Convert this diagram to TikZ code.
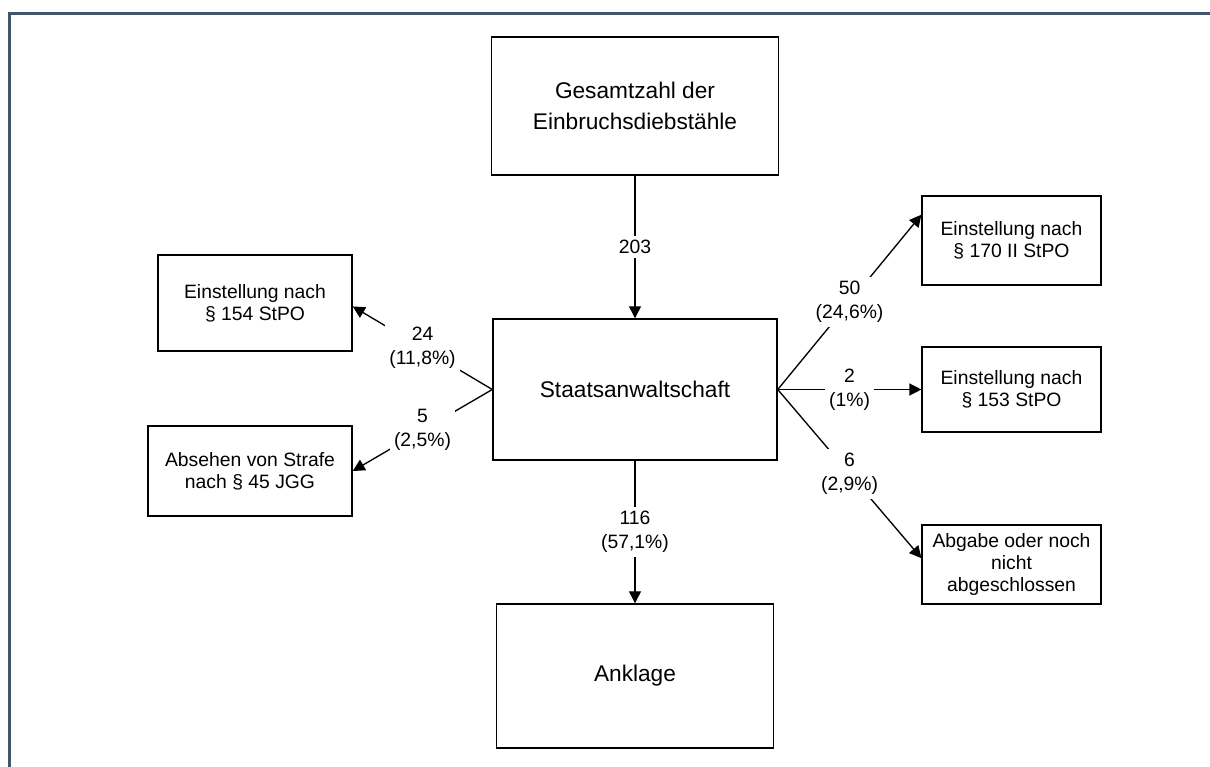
\documentclass[tikz,border=0pt]{standalone}
\usepackage{fontspec}
\setmainfont{Liberation Sans}
\usetikzlibrary{arrows.meta}
\definecolor{framegray}{RGB}{68, 84, 106}

\begin{document}
\begin{tikzpicture}[x=0.75pt, y=-0.75pt,
        bigbox/.style={draw, line width=1.1pt, align=center, inner sep=0pt,
                font=\fontsize{17}{23}\selectfont},
        smallbox/.style={draw, line width=1.1pt, align=center, inner sep=0pt,
                font=\fontsize{14.5}{16.5}\selectfont},
        flow/.style={line width=1pt, -{Triangle[length=9pt, width=9pt]}},
        count/.style={fill=white, align=center, inner sep=3pt,
                font=\fontsize{14.5}{18}\selectfont}]
    \pgfmathsetmacro{\leftCol}{252}
    \pgfmathsetmacro{\midCol}{635}
    \pgfmathsetmacro{\rightCol}{1011.5}

    \useasboundingbox (0,0) rectangle (1210,767);

    % outer frame (only top and left edge inside the picture)
    \draw[framegray, line width=2.25pt] (9,767) |- (1210,14);

    % middle column
    \node[bigbox, minimum width=215pt, minimum height=103.5pt] (total) at (\midCol, 106) {Gesamtzahl der\\Einbruchsdiebstähle};
    \node[bigbox, minimum width=213pt, minimum height=105.75pt] (staats) at (\midCol, 389.5) {Staatsanwaltschaft};
    \node[bigbox, minimum width=208pt, minimum height=108pt] (anklage) at (\midCol, 676) {Anklage};

    % left column
    \node[smallbox, minimum width=145.5pt, minimum height=72pt] (l154) at (255, 303) {Einstellung nach\\§ 154 StPO};
    \node[smallbox, minimum width=153pt, minimum height=67.5pt] (l45) at (250, 471) {Absehen von Strafe\\nach § 45 JGG};

    % right column
    \node[smallbox, minimum width=134pt, minimum height=67pt] (r170) at (\rightCol, 240.5) {Einstellung nach\\§ 170 II StPO};
    \node[smallbox, minimum width=134pt, minimum height=64pt] (r153) at (\rightCol, 389.5) {Einstellung nach\\§ 153 StPO};
    \node[smallbox, minimum width=134pt, minimum height=59pt] (rab) at (\rightCol, 564.5) {Abgabe oder noch\\nicht\\abgeschlossen};

    % vertical flow
    \draw[flow] (total) -- node[count] {203} (staats);
    \draw[flow] (staats) -- node[count] {116\\(57,1\%)} (anklage);

    % branches to the left
    \draw[flow] (staats.west) -- node[count] {24\\(11,8\%)} (l154.-2);
    \draw[flow] (staats.west) -- node[count] {5\\(2,5\%)} (l45.east);

    % branches to the right
    \draw[flow] (staats.east) -- node[count] {50\\(24,6\%)} (r170.164);
    \draw[flow] (staats.east) -- node[count] {2\\(1\%)} (r153.west);
    \draw[flow] (staats.east) -- node[count] {6\\(2,9\%)} (rab.176);
\end{tikzpicture}
\end{document}
